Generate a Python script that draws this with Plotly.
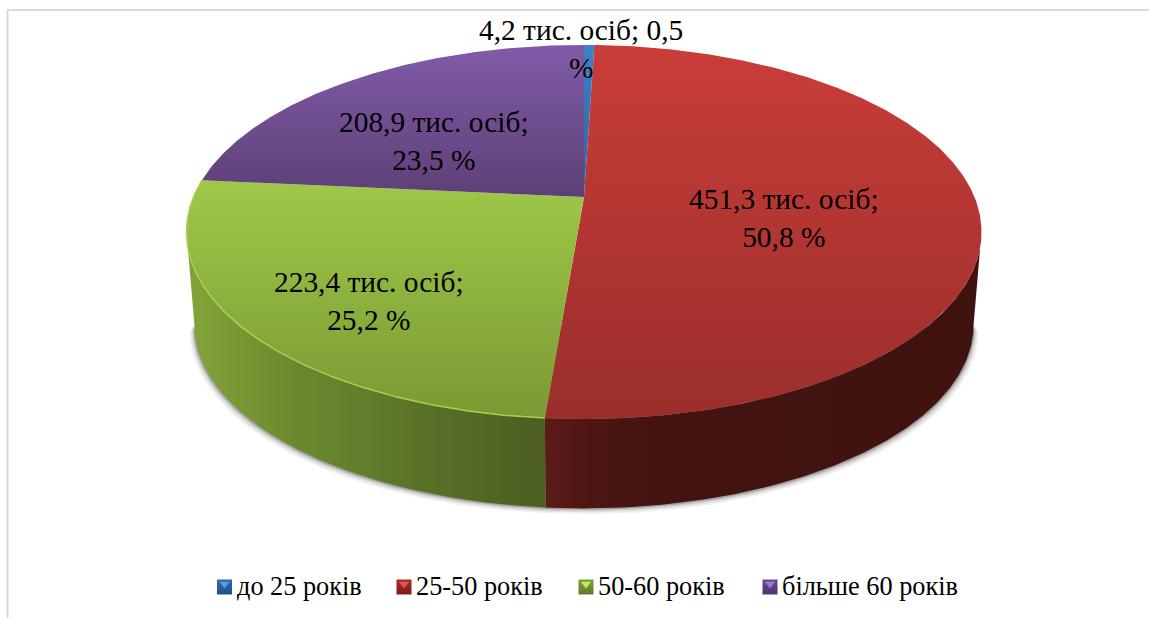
import numpy as np
import plotly.graph_objects as go

categories = ["до 25 років", "25-50 років", "50-60 років", "більше 60 років"]
values = [4.2, 451.3, 223.4, 208.9]
percents = [0.5, 50.8, 25.2, 23.5]
value_labels = ["4,2", "451,3", "223,4", "208,9"]
percent_labels = ["0,5", "50,8", "25,2", "23,5"]

W, H = 1149, 618
CX, CY, A, B, K = 584, 197, 390.5, 180.5, 0.187
DEPTH, S = 93.8, 0.98
FONT = "Liberation Serif"
FS = 29.4
LEG_FS = 26.3

# slice index -> (top colour, bottom colour, gradient start y, gradient stop y)
top_grad = {0: ("#3f80c8", "#2f63a0", 45, 197), 1: ("#ca3d39", "#9a2e2b", 45, 418),
            2: ("#9fc849", "#7a9a33", 180, 418), 3: ("#815ba9", "#5d4076", 45, 197)}


def rim(theta, bottom=False):
    X, Y = np.sin(theta), np.cos(theta)
    w = 1 + K * Y
    s, d = (S, DEPTH) if bottom else (1, 0)
    return CX + s * A * X / w, CY + d - s * B * Y / w


total = sum(percents)
fr = np.cumsum([0] + percents) / total * 2 * np.pi
sil = np.arccos(-K)  # angle at which the disc's outline is widest
fig = go.Figure()

# soft shadow
th = np.linspace(sil, 2 * np.pi - sil, 220)
for off, alpha in [(7, .05), (5, .08), (3, .12), (1.5, .18)]:
    x, y = rim(th, True)
    fig.add_trace(go.Scatter(x=x + np.sign(x - CX) * off * .7, y=y + off * .8, mode="lines", fill="toself",
                             line=dict(width=0), fillcolor=f"rgba(0,0,0,{alpha})",
                             hoverinfo="skip", showlegend=False))

# walls, limited to the visible part of the outline
walls = [(sil, fr[2], [[0, "#3f1210"], [.7, "#421311"], [.88, "#4b1512"], [1, "#5c1b18"]]),
         (fr[2], 2 * np.pi - sil, [[0, "#4a5e20"], [.3, "#586f27"], [.7, "#6b8a2f"], [1, "#84a43a"]])]
for lo, hi, scale in walls:
    t = np.linspace(lo, hi, 160)
    xt, yt = rim(t)
    xb, yb = rim(t, True)
    x = np.r_[xt, xb[::-1], xt[0]]
    y = np.r_[yt, yb[::-1], yt[0]]
    # colour stops run from the right-hand end to the left-hand end of each wall
    fig.add_trace(go.Scatter(x=x, y=y, mode="lines", fill="toself", line=dict(width=0),
                             fillgradient=dict(type="horizontal",
                                               colorscale=[[1 - p, c] for p, c in scale][::-1],
                                               start=float(x.min()), stop=float(x.max())),
                             hoverinfo="skip", showlegend=False))

# top slices
for i in [1, 2, 3, 0]:
    t = np.linspace(fr[i], fr[i + 1], max(6, int(percents[i] * 8)))
    xr, yr = rim(t)
    x = np.r_[CX, xr, CX]
    y = np.r_[CY, yr, CY]
    c0, c1, y0, y1 = top_grad[i]
    fig.add_trace(go.Scatter(x=x, y=y, mode="lines", fill="toself", line=dict(width=0),
                             fillgradient=dict(type="vertical", colorscale=[[0, c0], [1, c1]], start=y0, stop=y1),
                             name=categories[i], hoverinfo="skip", showlegend=False))
    if i == 2:
        fig.add_trace(go.Scatter(x=xr, y=yr, mode="lines", line=dict(width=1.5, color="#a9d152"),
                                 hoverinfo="skip", showlegend=False))

# labels
label_pos = [(581, 48.5), (783.5, 217.5), (369, 300.5), (434, 141)]
ann = []
for i in range(4):
    txt = f"{value_labels[i]} тис. осіб;<br>{percent_labels[i]} %"
    if i == 0:
        txt = f"{value_labels[i]} тис. осіб; {percent_labels[i]}<br>%"
    ann.append(dict(x=label_pos[i][0], y=label_pos[i][1], text=txt, showarrow=False, xref="x", yref="y",
                    font=dict(family=FONT, size=FS, color="#000000"), align="center"))

# legend
swatch_x = [224.5, 404, 586, 770]
leg = [("#2f6cb0", "#5a9ae0", "#1f4f86"), ("#a82c2a", "#e85050", "#7c1e1c"),
       ("#7f9e38", "#c4e860", "#5e7a26"), ("#6a4a94", "#9a78c8", "#4c3470")]
for i in range(4):
    fig.add_trace(go.Scatter(x=[swatch_x[i]], y=[587], mode="markers",
                             marker=dict(symbol="square", size=15, color=leg[i][0], line=dict(width=0),
                                         gradient=dict(type="vertical", color=leg[i][2])),
                             hoverinfo="skip", showlegend=False))
    fig.add_trace(go.Scatter(x=[swatch_x[i]], y=[584], mode="markers",
                             marker=dict(symbol="triangle-down", size=9, color=leg[i][1], line=dict(width=0)),
                             hoverinfo="skip", showlegend=False))
    ann.append(dict(x=swatch_x[i] + 10, y=586.5, text=categories[i], showarrow=False, xanchor="left",
                    font=dict(family=FONT, size=LEG_FS, color="#000000"), xref="x", yref="y"))

frame = dict(color="#d9d9d9", width=2)
shapes = [dict(type="line", xref="x", yref="y", x0=7.5, x1=7.5, y0=10, y1=618, line=frame),
          dict(type="line", xref="x", yref="y", x0=7, x1=1149, y0=10, y1=10, line=frame)]

fig.update_layout(width=W, height=H, autosize=False, margin=dict(l=0, r=0, t=0, b=0),
                  paper_bgcolor="white", plot_bgcolor="white", showlegend=False,
                  xaxis=dict(range=[0, W], visible=False, fixedrange=True),
                  yaxis=dict(range=[H, 0], visible=False, fixedrange=True),
                  annotations=ann, shapes=shapes)
fig.write_html("out.html", config=dict(displayModeBar=False),
               post_script="document.body.style.margin='0';document.body.style.overflow='hidden';")
